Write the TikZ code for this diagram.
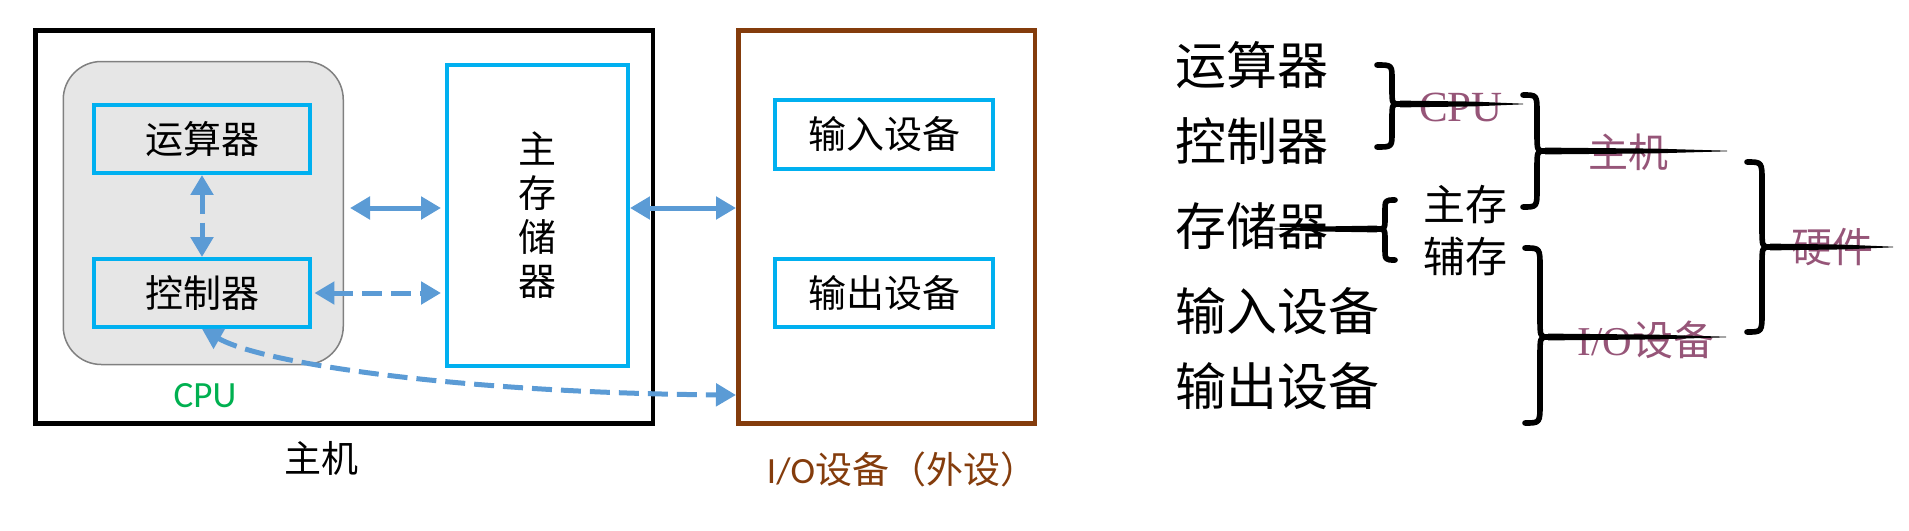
\documentclass[tikz,border=0pt]{standalone}
\usepackage{fontspec}
\setmainfont{Liberation Serif}
\newfontfamily\cjk{Noto Sans CJK SC}
\newfontfamily\calib{Carlito}
\usetikzlibrary{arrows.meta}
\definecolor{arrowblue}{HTML}{5B9BD5}
\definecolor{boxcyan}{HTML}{00B0F0}
\definecolor{cpugray}{HTML}{E6E6E6}
\definecolor{cpuborder}{HTML}{808080}
\definecolor{iobrown}{HTML}{843C0C}
\definecolor{cpugreen}{HTML}{00B050}
\definecolor{plum}{RGB}{150,85,120}
% curly brace with tapered tail
% #1 x0 (ends), #2 top y, #3 bottom y, #4 x of spine, #5 x of tip, #6 y of tip, #7 radius, #8 x of tail end
\newcommand\mybrace[8]{%
  \draw[bracestyle] (#1,#2) .. controls (#4,#2) .. (#4,{#2+#7}) -- (#4,{#6-#7})
    .. controls (#4,#6) .. (#5,#6) .. controls (#4,#6) .. (#4,{#6+#7})
    -- (#4,{#3-#7}) .. controls (#4,#3) .. (#1,#3);
  \fill[black] (#5,{#6-3.4}) -- ({#5+0.6*(#8-#5)},{#6-2.4}) -- (#8,{#6-0.3})
    -- (#8,{#6+0.3}) -- ({#5+0.6*(#8-#5)},{#6+2.4}) -- (#5,{#6+3.4}) -- cycle;
}
\begin{document}
\begin{tikzpicture}[x=0.5pt,y=-0.5pt,
  boxfont/.style={font=\cjk\fontsize{19pt}{22pt}\selectfont},
  hostbox/.style={draw=black, line width=2.25pt, inner sep=0pt, minimum width=308.75pt, minimum height=196.5pt},
  iobox/.style={draw=iobrown, line width=2.25pt, inner sep=0pt, minimum width=148.25pt, minimum height=196.5pt},
  cpubox/.style={draw=cpuborder, fill=cpugray, line width=0.75pt, rounded corners=19pt, inner sep=0pt, minimum width=140pt, minimum height=151.5pt},
  unitbox/.style={boxfont, draw=boxcyan, line width=2.2pt, inner sep=0pt, minimum width=108.25pt, minimum height=33.75pt},
  membox/.style={boxfont, draw=boxcyan, fill=white, line width=2.2pt, inner sep=0pt, minimum width=90.25pt, minimum height=150.25pt, align=center},
  arr/.style={draw=arrowblue, line width=2.5pt, {Triangle[length=10pt,width=11pt]}-{Triangle[length=10pt,width=11pt]}},
  dasharr/.style={arr, dash pattern=on 10pt off 4.5pt},
  bigtext/.style={font=\cjk\fontsize{25.5pt}{28pt}\selectfont, anchor=west, inner sep=0pt},
  midtext/.style={font=\cjk\fontsize{21pt}{24pt}\selectfont, inner sep=0pt},
  plumtext/.style={text=plum, font=\fontsize{20.5pt}{24pt}\selectfont, inner sep=0pt},
  bracestyle/.style={draw=black, line width=2.8pt, line cap=round, line join=round}
]
\useasboundingbox (0,0) rectangle (1909,530);

% ---------- left diagram ----------
\node[hostbox] (host) at (344,227) {};
\node[cpubox] (cpu) at (203.25,213) {};
\node[unitbox, fill=cpugray] (alu) at (202,139) {运算器};
\node[unitbox, fill=cpugray] (ctrl) at (202,293) {控制器};
\node[membox] (mem) at (537.5,215.5) {主\\存\\储\\器};
\node[iobox] (io) at (886.5,227) {};
\node[unitbox, fill=white, minimum width=108.75pt, minimum height=34.25pt] (in) at (884,134.5) {输入设备};
\node[unitbox, fill=white, minimum width=108.75pt, minimum height=34.25pt] (out) at (884,293) {输出设备};

\node[text=cpugreen, font=\calib\fontsize{18.5pt}{20pt}\selectfont, inner sep=0pt] (cpulabel) at (205,396) {CPU};
\node[font=\cjk\fontsize{18.5pt}{20pt}\selectfont, inner sep=0pt] (hostlabel) at (321,458) {主机};
\node[text=iobrown, font=\cjk\fontsize{18.5pt}{20pt}\selectfont, inner sep=0pt] (iolabel) at (902,469) {{\calib I/O}设备（外设）};

\coordinate (r1) at (0,208);
\coordinate (r2) at (0,395);
\draw[dasharr] (alu.south) -- (ctrl.north);
\draw[arr, shorten <=3pt, shorten >=2pt] (cpu.east |- r1) -- (mem.west |- r1);
\draw[dasharr, shorten <=1pt, shorten >=2pt] (ctrl.east) -- (mem.west |- ctrl.east);
\draw[arr] (mem.east |- r1) -- (io.west |- r1);
\draw[dasharr] (ctrl.south) .. controls (265,365) and (470,393) .. (io.west |- r2);

% ---------- right classification ----------
\node[bigtext] (t1) at (1175,65) {运算器};
\node[bigtext] (t2) at (1175,141) {控制器};
\node[bigtext] (t3) at (1175,226) {存储器};
\node[bigtext] (t4) at (1175,311) {输入设备};
\node[bigtext] (t5) at (1175,386) {输出设备};
\node[midtext] (zc) at (1465,205) {主存};
\node[midtext] (fc) at (1465,257) {辅存};

\node[plumtext, font=\fontsize{21.5pt}{24pt}\selectfont] (pcpu) at (1461,107) {CPU};
\node[plumtext, font=\cjk\fontsize{20pt}{24pt}\selectfont] (pzj) at (1628,152) {主机};
\node[plumtext] (pio) at (1646,340) {I/O{\cjk 设备}};
\node[plumtext, font=\cjk\fontsize{20.5pt}{24pt}\selectfont] (pyj) at (1832,247) {硬件};

\mybrace{1377}{65}{147}{1392}{1400}{104}{15}{1523}
\mybrace{1523}{95}{207}{1537}{1545}{151}{18}{1727}
\mybrace{1747}{162}{332}{1762}{1770}{247}{20}{1893}
\mybrace{1525}{248}{423}{1540}{1548}{337}{20}{1726}
\mybrace{1395}{200}{260}{1385}{1377}{229}{12}{1271}
\end{tikzpicture}
\end{document}
